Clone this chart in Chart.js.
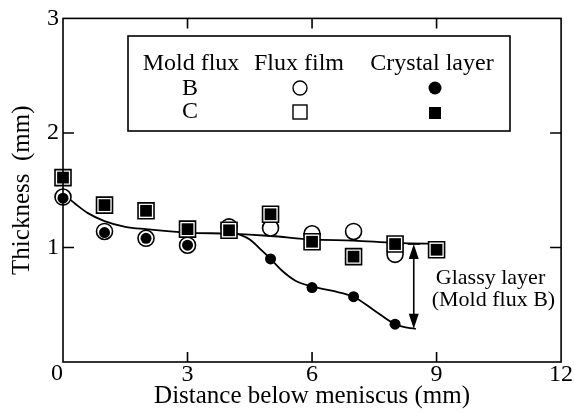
<!DOCTYPE html>
<html>
<head>
<meta charset="utf-8">
<script src="https://cdn.jsdelivr.net/npm/chart.js@4"></script>
<style>
  html, body { margin: 0; padding: 0; background: #fff; }
  #wrap { width: 574px; height: 412px; }
</style>
</head>
<body>
<div id="wrap"><canvas id="myChart" width="574" height="412"></canvas></div>
<script>
// measured points (mm)
const distance = [0, 1, 2, 3, 4, 5, 6, 7, 8, 9];
const filmB = [1.44, 1.14, 1.08, 1.02, 1.18, 1.17, 1.12, 1.14, 0.94, null];
const crystalB = [1.43, 1.13, 1.08, 1.02, 1.16, 0.90, 0.65, 0.57, 0.33, null];
const filmC = [1.61, 1.37, 1.32, 1.16, 1.15, 1.29, 1.05, 0.92, 1.03, 0.98];
const crystalC = [1.61, 1.37, 1.32, 1.16, 1.15, 1.29, 1.05, 0.92, 1.03, 0.98];

// hand drawn trend curves
const upperX = [0, 0.3, 0.6, 1, 1.5, 2, 3, 4, 5, 6, 7, 8, 9.2];
const upperY = [1.47, 1.38, 1.30, 1.23, 1.18, 1.16, 1.13, 1.12, 1.10, 1.07, 1.06, 1.04, 1.03];
const lowerX = [4.2, 4.5, 4.8, 5, 5.3, 5.6, 6, 6.5, 7, 7.5, 8, 8.3, 8.5];
const lowerY = [1.12, 1.07, 0.97, 0.90, 0.79, 0.71, 0.66, 0.62, 0.57, 0.45, 0.33, 0.30, 0.29];

const xTicks = [0, 3, 6, 9, 12];
const yTicks = [0, 1, 2, 3];

// glassy layer arrow (Mold flux B)
const arrowX = 8.45;
const arrowTop = 1.03;
const arrowBottom = 0.29;

const serif = "'Liberation Serif', 'DejaVu Serif', serif";

function pts(xs, ys) {
  return xs.map((x, i) => ({ x: x, y: ys[i] })).filter(p => p.y != null);
}

const frame = {
  id: "frame",
  afterDraw(chart) {
    const ctx = chart.ctx;
    const a = chart.chartArea;
    const x = chart.scales.x, y = chart.scales.y;
    ctx.save();
    ctx.strokeStyle = "#000";
    ctx.fillStyle = "#000";
    ctx.lineWidth = 1.6;
    ctx.strokeRect(a.left, a.top, a.right - a.left, a.bottom - a.top);
    // inward ticks
    ctx.beginPath();
    xTicks.slice(1, -1).forEach(v => {
      const px = x.getPixelForValue(v);
      ctx.moveTo(px, a.bottom); ctx.lineTo(px, a.bottom - 10);
      ctx.moveTo(px, a.top); ctx.lineTo(px, a.top + 10);
    });
    yTicks.slice(1, -1).forEach(v => {
      const py = y.getPixelForValue(v);
      ctx.moveTo(a.left, py); ctx.lineTo(a.left + 11, py);
      ctx.moveTo(a.right, py); ctx.lineTo(a.right - 11, py);
    });
    ctx.stroke();

    // shared origin label
    ctx.font = "24px " + serif;
    ctx.textAlign = "center";
    ctx.textBaseline = "middle";
    ctx.fillText("0", x.getPixelForValue(0) - 6, a.bottom + 12);

    // legend table
    ctx.strokeRect(128, 36, 382, 95);
    ctx.fillText("Mold flux", 191, 64);
    ctx.fillText("Flux film", 299, 64);
    ctx.fillText("Crystal layer", 432, 64);
    ctx.fillText("B", 190, 89);
    ctx.fillText("C", 190, 112);
    ctx.lineWidth = 1.4;
    ctx.beginPath(); ctx.arc(300, 88, 7, 0, Math.PI * 2); ctx.stroke();
    ctx.strokeRect(293, 105, 14, 14);
    ctx.beginPath(); ctx.arc(435, 88, 6.5, 0, Math.PI * 2); ctx.fill();
    ctx.fillRect(429, 107, 12, 12);

    // glassy layer arrow
    const ax = x.getPixelForValue(arrowX);
    const at = y.getPixelForValue(arrowTop);
    const ab = y.getPixelForValue(arrowBottom);
    ctx.lineWidth = 1.6;
    ctx.beginPath(); ctx.moveTo(ax, at + 10); ctx.lineTo(ax, ab - 10); ctx.stroke();
    ctx.beginPath();
    ctx.moveTo(ax, at); ctx.lineTo(ax - 5, at + 15); ctx.lineTo(ax + 5, at + 15); ctx.closePath();
    ctx.moveTo(ax, ab); ctx.lineTo(ax - 5, ab - 15); ctx.lineTo(ax + 5, ab - 15); ctx.closePath();
    ctx.fill();
    ctx.beginPath(); ctx.moveTo(ax - 6, at); ctx.lineTo(ax + 6, at); ctx.stroke();
    ctx.font = "22px " + serif;
    ctx.fillText("Glassy layer", x.getPixelForValue(10.3), y.getPixelForValue(0.73));
    ctx.fillText("(Mold flux B)", x.getPixelForValue(10.37), y.getPixelForValue(0.54));
    ctx.restore();
  }
};

const curve = (xs, ys, order) => ({
  data: pts(xs, ys),
  showLine: true,
  borderColor: "#000",
  borderWidth: 1.8,
  pointRadius: 0,
  cubicInterpolationMode: "monotone",
  clip: false,
  order: order
});

const marker = (ys, style, radius, filled, order) => ({
  data: pts(distance, ys),
  pointStyle: style,
  pointRadius: radius,
  pointHoverRadius: radius,
  pointBackgroundColor: filled ? "#000" : "#fff",
  pointBorderColor: "#000",
  pointBorderWidth: filled ? 0 : 1.6,
  showLine: false,
  clip: false,
  order: order
});

const config = {
  type: "scatter",
  data: {
    datasets: [
      curve(upperX, upperY, 10),
      curve(lowerX, lowerY, 9),
      marker(filmB, "circle", 8, false, 8),
      marker(crystalB, "circle", 5.5, true, 7),
      marker(filmC, "rect", 11.3, false, 6),
      marker(crystalC, "rect", 8.3, true, 5)
    ]
  },
  options: {
    responsive: false,
    animation: false,
    layout: { padding: { top: 16, right: 11, left: 0, bottom: 0 } },
    plugins: { legend: { display: false }, tooltip: { enabled: false } },
    scales: {
      x: {
        min: 0, max: 12,
        afterBuildTicks: s => { s.ticks = xTicks.map(v => ({ value: v })); },
        afterFit: s => { s.height = 50; },
        grid: { display: false, drawTicks: false },
        border: { display: false },
        ticks: {
          color: "#000", padding: -2, font: { family: serif, size: 24 },
          callback: v => (v === 0 ? "" : v)
        },
        title: {
          display: true, text: "Distance below meniscus (mm)", color: "#000",
          font: { family: serif, size: 25 }, padding: { bottom: 1 }
        }
      },
      y: {
        min: 0, max: 3,
        afterBuildTicks: s => { s.ticks = yTicks.map(v => ({ value: v })); },
        afterFit: s => { s.width = 63; },
        grid: { display: false, drawTicks: false },
        border: { display: false },
        ticks: {
          color: "#000", padding: 4, font: { family: serif, size: 24 },
          callback: v => (v === 0 ? "" : v)
        },
        title: {
          display: true, text: "Thickness  (mm)", color: "#000",
          font: { family: serif, size: 25 }, padding: { top: 7 }
        }
      }
    }
  },
  plugins: [frame]
};

new Chart(document.getElementById("myChart"), config);
</script>
</body>
</html>
